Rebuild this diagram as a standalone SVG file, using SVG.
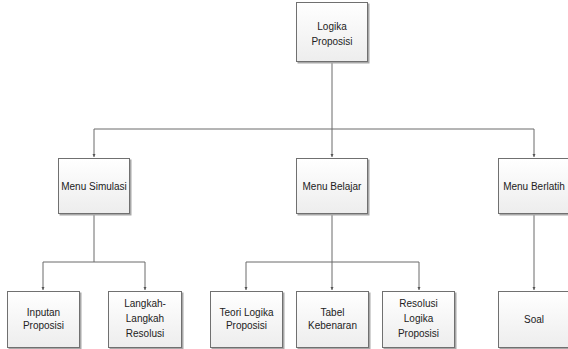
<svg xmlns="http://www.w3.org/2000/svg" width="568" height="349" viewBox="0 0 568 349">
<defs>
<linearGradient id="g" x1="0" y1="0" x2="0" y2="1">
<stop offset="0" stop-color="#ffffff"/>
<stop offset="1" stop-color="#ededed"/>
</linearGradient>
<marker id="a" viewBox="0 0 4 4" refX="4" refY="2" markerWidth="3.5" markerHeight="3.5" orient="auto" markerUnits="userSpaceOnUse">
<path d="M0,0 L4,2 L0,4 z" fill="#555"/>
</marker>
<style>
.sh{fill:#a8a8a8;}
.bx{fill:url(#g);stroke:#707070;stroke-width:1;}
.t{font-family:"Liberation Sans Narrow","Liberation Sans",Arial,sans-serif;font-size:10px;fill:#222;text-anchor:middle;}
.c{fill:none;stroke:#6a6a6a;stroke-width:1;}
</style>
</defs>
<g id="connectors">
<path class="c" d="M332,62 V129 M94,129 H534"/>
<path class="c" d="M94,129 V157" marker-end="url(#a)"/>
<path class="c" d="M332,129 V157" marker-end="url(#a)"/>
<path class="c" d="M534,129 V157" marker-end="url(#a)"/>
<path class="c" d="M94,214 V262 M43,262 H145"/>
<path class="c" d="M43,262 V290" marker-end="url(#a)"/>
<path class="c" d="M145,262 V290" marker-end="url(#a)"/>
<path class="c" d="M332,214 V262 M246,262 H419"/>
<path class="c" d="M246,262 V290" marker-end="url(#a)"/>
<path class="c" d="M332,262 V290" marker-end="url(#a)"/>
<path class="c" d="M419,262 V290" marker-end="url(#a)"/>
<path class="c" d="M534,214 V290" marker-end="url(#a)"/>
</g>
<g id="logika">
<rect class="sh" x="297.5" y="3.5" width="72" height="60"/>
<rect class="bx" x="296.5" y="2.5" width="71" height="59"/>
<text class="t" x="332" y="30">Logika</text>
<text class="t" x="332" y="45">Proposisi</text>
</g>
<g id="simulasi">
<rect class="sh" x="59.5" y="159.5" width="72" height="56"/>
<rect class="bx" x="58.5" y="158.5" width="71" height="55"/>
<text class="t" x="94" y="190">Menu Simulasi</text>
</g>
<g id="belajar">
<rect class="sh" x="297.5" y="159.5" width="72" height="56"/>
<rect class="bx" x="296.5" y="158.5" width="71" height="55"/>
<text class="t" x="332" y="190">Menu Belajar</text>
</g>
<g id="berlatih">
<rect class="sh" x="499.5" y="159.5" width="72" height="56"/>
<rect class="bx" x="498.5" y="158.5" width="71" height="55"/>
<text class="t" x="534" y="190">Menu Berlatih</text>
</g>
<g id="inputan">
<rect class="sh" x="8.5" y="292.5" width="73" height="57"/>
<rect class="bx" x="7.5" y="291.5" width="72" height="56"/>
<text class="t" x="43.5" y="316">Inputan</text>
<text class="t" x="43.5" y="329">Proposisi</text>
</g>
<g id="langkah">
<rect class="sh" x="109.5" y="292.5" width="74" height="57"/>
<rect class="bx" x="108.5" y="291.5" width="73" height="56"/>
<text class="t" x="145" y="307">Langkah-</text>
<text class="t" x="145" y="322">Langkah</text>
<text class="t" x="145" y="337">Resolusi</text>
</g>
<g id="teori">
<rect class="sh" x="211.5" y="292.5" width="73" height="57"/>
<rect class="bx" x="210.5" y="291.5" width="72" height="56"/>
<text class="t" x="246.5" y="316">Teori Logika</text>
<text class="t" x="246.5" y="329">Proposisi</text>
</g>
<g id="tabel">
<rect class="sh" x="297.5" y="292.5" width="73" height="57"/>
<rect class="bx" x="296.5" y="291.5" width="72" height="56"/>
<text class="t" x="332.5" y="316">Tabel</text>
<text class="t" x="332.5" y="329">Kebenaran</text>
</g>
<g id="resolusi">
<rect class="sh" x="383.5" y="292.5" width="73" height="57"/>
<rect class="bx" x="382.5" y="291.5" width="72" height="56"/>
<text class="t" x="418.5" y="307">Resolusi</text>
<text class="t" x="418.5" y="322">Logika</text>
<text class="t" x="418.5" y="337">Proposisi</text>
</g>
<g id="soal">
<rect class="sh" x="499.5" y="292.5" width="72" height="57"/>
<rect class="bx" x="498.5" y="291.5" width="71" height="56"/>
<text class="t" x="534" y="323">Soal</text>
</g>
</svg>
